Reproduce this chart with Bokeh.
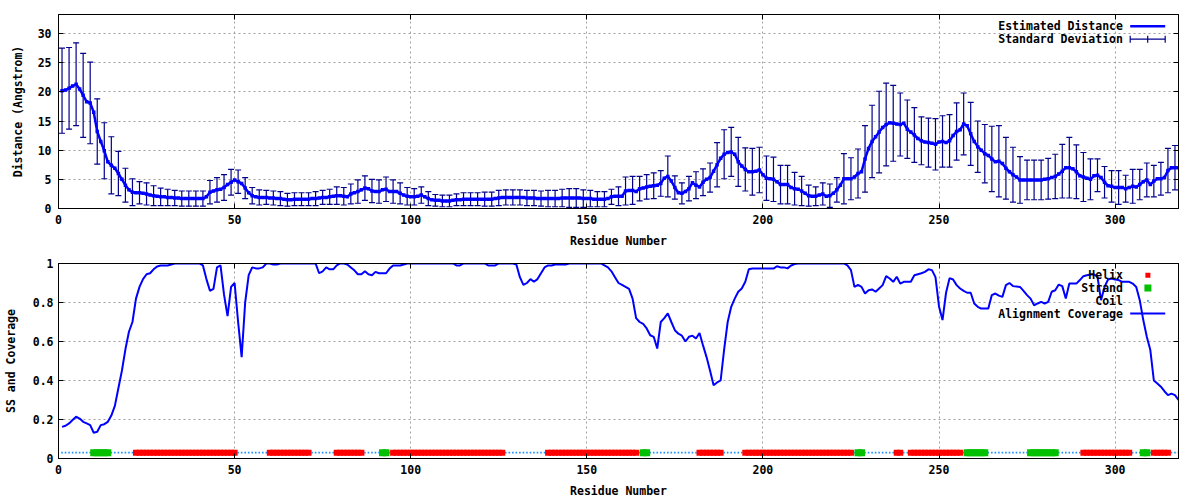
import math
from bokeh.plotting import figure
from bokeh.layouts import column
from bokeh.models import Range1d, FixedTicker, LinearAxis, ColumnDataSource
from bokeh.core.properties import value
from bokeh.embed import file_html
from bokeh.resources import INLINE

# ---------------- data ----------------
residues = list(range(1, 319))

distance = [
    20.2, 20.3, 20.6, 21.0, 21.3, 20.5, 19.4, 18.3, 18.1, 16.5,
    13.2, 11.5, 9.9, 8.0, 7.4, 6.9, 6.0, 5.0, 4.0, 3.2,
    2.8, 2.7, 2.7, 2.6, 2.5, 2.3, 2.2, 2.1, 2.0, 2.0,
    1.9, 1.9, 1.8, 1.8, 1.7, 1.7, 1.7, 1.7, 1.7, 1.7,
    1.7, 2.0, 2.8, 3.0, 3.2, 3.3, 3.6, 4.1, 4.5, 4.9,
    4.6, 4.3, 3.5, 2.7, 2.2, 2.0, 1.9, 1.9, 1.9, 1.8,
    1.8, 1.7, 1.7, 1.6, 1.5, 1.5, 1.6, 1.6, 1.6, 1.6,
    1.6, 1.7, 1.7, 1.8, 1.9, 1.9, 2.0, 2.1, 2.2, 2.2,
    2.1, 2.0, 2.5, 2.7, 2.9, 3.2, 3.5, 3.4, 3.0, 2.9,
    2.9, 3.2, 3.3, 2.9, 2.9, 2.9, 2.6, 2.3, 2.1, 2.0,
    2.0, 2.1, 2.3, 2.0, 1.7, 1.5, 1.4, 1.4, 1.3, 1.3,
    1.3, 1.4, 1.5, 1.5, 1.6, 1.6, 1.6, 1.6, 1.6, 1.6,
    1.6, 1.6, 1.6, 1.7, 1.8, 1.9, 1.9, 1.9, 1.9, 1.9,
    1.9, 1.9, 1.8, 1.8, 1.8, 1.7, 1.7, 1.7, 1.7, 1.7,
    1.7, 1.7, 1.8, 1.8, 1.8, 1.8, 1.8, 1.8, 1.7, 1.7,
    1.7, 1.6, 1.6, 1.6, 1.6, 1.7, 2.0, 2.1, 2.1, 2.1,
    3.0, 3.1, 3.1, 2.9, 3.4, 3.5, 3.7, 3.8, 3.9, 4.0,
    4.3, 5.2, 5.5, 4.7, 3.6, 2.7, 2.6, 2.9, 3.4, 4.4,
    4.0, 3.7, 4.5, 5.0, 5.3, 6.4, 7.5, 8.6, 9.3, 9.6,
    9.7, 9.3, 8.0, 7.3, 6.7, 6.3, 6.3, 6.4, 6.6, 5.8,
    5.2, 5.1, 5.0, 4.6, 4.1, 4.1, 4.1, 3.6, 3.4, 3.3,
    3.0, 2.6, 2.2, 2.1, 2.1, 2.3, 2.5, 2.1, 2.2, 2.6,
    3.2, 4.0, 5.1, 5.1, 5.1, 5.4, 6.0, 6.3, 8.5, 10.3,
    11.5, 12.3, 13.1, 13.9, 14.4, 14.7, 14.6, 14.5, 14.4, 14.6,
    13.6, 13.1, 12.6, 12.0, 11.6, 11.4, 11.3, 11.2, 11.0, 11.4,
    11.5, 11.3, 11.6, 12.5, 13.2, 13.5, 14.5, 14.2, 12.8, 11.5,
    10.6, 10.0, 9.4, 9.1, 8.5, 8.0, 8.1, 7.7, 6.9, 6.3,
    5.8, 5.4, 4.9, 4.9, 4.9, 4.9, 4.9, 4.9, 4.9, 5.0,
    5.1, 5.3, 5.5, 5.9, 6.4, 7.0, 7.0, 6.8, 6.3, 5.6,
    5.4, 5.2, 5.0, 5.6, 5.7, 5.3, 4.5, 3.9, 3.8, 3.6,
    3.6, 3.6, 3.4, 3.6, 3.8, 3.7, 4.1, 4.6, 4.9, 4.1,
    4.7, 5.1, 5.1, 5.3, 6.5, 7.0, 7.0, 7.0,
]

std_dev = [
    7.3, 7.1, 7.0, 7.0, 7.1, 7.1, 7.2, 7.1, 7.0, 6.6,
    5.6, 5.0, 4.8, 4.7, 4.9, 4.0, 3.8, 3.2, 2.9, 2.6,
    2.3, 2.0, 1.9, 1.9, 1.9, 1.8, 1.7, 1.6, 1.5, 1.5,
    1.4, 1.4, 1.3, 1.3, 1.3, 1.3, 1.3, 1.3, 1.3, 1.3,
    1.3, 1.5, 2.0, 2.1, 2.1, 2.1, 2.2, 2.2, 2.2, 2.2,
    2.0, 2.0, 1.8, 1.6, 1.4, 1.3, 1.3, 1.3, 1.2, 1.2,
    1.2, 1.2, 1.2, 1.1, 1.1, 1.1, 1.1, 1.1, 1.1, 1.1,
    1.1, 1.1, 1.2, 1.2, 1.2, 1.3, 1.3, 1.4, 1.5, 1.5,
    1.5, 1.5, 1.7, 1.8, 2.0, 2.1, 2.1, 2.1, 2.0, 2.0,
    2.0, 2.1, 2.1, 2.0, 2.0, 2.0, 1.8, 1.6, 1.5, 1.4,
    1.4, 1.4, 1.4, 1.3, 1.2, 1.0, 1.0, 1.0, 1.0, 1.0,
    1.0, 1.0, 1.0, 1.1, 1.1, 1.1, 1.1, 1.1, 1.1, 1.2,
    1.2, 1.2, 1.2, 1.3, 1.3, 1.3, 1.3, 1.3, 1.3, 1.3,
    1.3, 1.3, 1.3, 1.3, 1.3, 1.3, 1.3, 1.4, 1.4, 1.4,
    1.4, 1.5, 1.5, 1.5, 1.6, 1.6, 1.6, 1.5, 1.5, 1.4,
    1.4, 1.3, 1.3, 1.3, 1.3, 1.3, 1.3, 1.3, 1.6, 2.0,
    2.4, 2.4, 2.4, 2.2, 2.1, 2.1, 2.1, 2.1, 2.2, 2.2,
    2.2, 3.0, 3.5, 3.0, 2.0, 1.8, 1.8, 1.9, 2.1, 2.3,
    2.3, 2.3, 2.3, 2.3, 2.5, 3.0, 3.8, 4.6, 4.2, 4.2,
    4.2, 4.1, 4.2, 4.2, 3.7, 3.8, 4.0, 4.1, 3.9, 3.8,
    3.8, 3.9, 3.8, 3.4, 3.3, 3.5, 3.3, 2.9, 2.8, 2.7,
    2.5, 2.2, 1.8, 1.6, 1.6, 1.8, 1.9, 1.9, 2.0, 2.1,
    2.1, 3.5, 4.3, 4.4, 3.6, 3.7, 4.2, 4.4, 5.7, 5.9,
    6.2, 6.5, 7.0, 7.1, 7.1, 6.9, 6.5, 5.2, 5.4, 5.5,
    5.0, 4.9, 4.7, 4.5, 4.1, 4.0, 4.2, 4.2, 4.4, 4.6,
    4.4, 4.3, 4.5, 4.8, 4.9, 5.1, 5.3, 5.4, 5.4, 4.9,
    4.4, 4.7, 5.0, 5.3, 5.6, 6.0, 6.1, 5.7, 5.3, 5.0,
    4.7, 4.5, 4.0, 3.5, 3.4, 3.5, 3.4, 3.4, 3.4, 3.5,
    3.5, 3.6, 3.8, 4.2, 4.6, 5.0, 5.2, 4.9, 4.6, 4.3,
    4.2, 3.7, 3.5, 3.2, 2.8, 2.7, 2.7, 2.8, 2.7, 2.6,
    2.9, 2.5, 2.3, 2.2, 2.9, 2.2, 2.6, 3.1, 2.9, 2.2,
    2.7, 2.7, 2.8, 2.8, 3.8, 3.7, 3.8, 4.0,
]

coverage = [
    0.162, 0.168, 0.180, 0.197, 0.214, 0.205, 0.188, 0.180, 0.171, 0.132,
    0.137, 0.171, 0.176, 0.188, 0.22, 0.27, 0.36, 0.45, 0.56, 0.65,
    0.70, 0.82, 0.88, 0.92, 0.945, 0.95, 0.97, 0.985, 0.99, 0.99,
    0.99, 0.995, 1.0, 1.0, 1.0, 1.0, 1.0, 1.0, 1.0, 1.0,
    0.99, 0.92, 0.86, 0.87, 0.98, 0.99, 0.84, 0.73, 0.88, 0.90,
    0.70, 0.52, 0.80, 0.94, 0.98, 0.975, 0.975, 0.98, 1.0, 1.0,
    0.995, 0.995, 1.0, 1.0, 1.0, 1.0, 1.0, 1.0, 1.0, 1.0,
    1.0, 1.0, 1.0, 0.95, 0.96, 0.98, 0.97, 0.97, 0.99, 1.0,
    1.0, 0.995, 0.98, 0.965, 0.945, 0.945, 0.96, 0.945, 0.94, 0.957,
    0.95, 0.95, 0.95, 0.974, 0.99, 0.99, 0.99, 0.995, 1.0, 1.0,
    1.0, 1.0, 1.0, 1.0, 1.0, 1.0, 1.0, 1.0, 1.0, 1.0,
    1.0, 1.0, 0.99, 0.99, 1.0, 1.0, 1.0, 1.0, 1.0, 1.0,
    1.0, 0.99, 0.99, 0.99, 1.0, 1.0, 1.0, 1.0, 1.0, 0.995,
    0.93, 0.89, 0.90, 0.92, 0.906, 0.92, 0.95, 0.98, 0.99, 0.99,
    0.995, 0.995, 0.995, 0.995, 1.0, 1.0, 1.0, 1.0, 1.0, 1.0,
    1.0, 1.0, 1.0, 1.0, 0.99, 0.98, 0.96, 0.93, 0.90, 0.89,
    0.88, 0.87, 0.82, 0.72, 0.70, 0.69, 0.667, 0.632, 0.624, 0.564,
    0.70, 0.72, 0.744, 0.70, 0.658, 0.64, 0.63, 0.60, 0.624, 0.63,
    0.615, 0.644, 0.58, 0.52, 0.45, 0.376, 0.39, 0.40, 0.56, 0.70,
    0.778, 0.82, 0.855, 0.872, 0.906, 0.97, 0.974, 0.974, 0.974, 0.974,
    0.974, 0.974, 0.974, 0.986, 0.98, 0.98, 0.975, 0.99, 0.997, 1.0,
    1.0, 1.0, 1.0, 1.0, 1.0, 1.0, 1.0, 1.0, 1.0, 1.0,
    1.0, 1.0, 1.0, 0.99, 0.966, 0.88, 0.89, 0.88, 0.846, 0.863,
    0.867, 0.855, 0.872, 0.889, 0.935, 0.923, 0.906, 0.932, 0.897, 0.906,
    0.906, 0.906, 0.94, 0.945, 0.95, 0.957, 0.97, 0.966, 0.93, 0.78,
    0.71, 0.85, 0.925, 0.918, 0.889, 0.872, 0.86, 0.85, 0.85, 0.795,
    0.778, 0.769, 0.769, 0.769, 0.838, 0.846, 0.835, 0.829, 0.889, 0.90,
    0.884, 0.882, 0.88, 0.86, 0.838, 0.82, 0.786, 0.795, 0.803, 0.795,
    0.803, 0.855, 0.863, 0.892, 0.884, 0.82, 0.897, 0.897, 0.897, 0.915,
    0.935, 0.94, 0.944, 0.944, 0.932, 0.812, 0.88, 0.918, 0.923, 0.918,
    0.915, 0.906, 0.906, 0.906, 0.897, 0.88, 0.812, 0.71, 0.624, 0.556,
    0.40, 0.385, 0.368, 0.345, 0.325, 0.333, 0.325, 0.30,
]

helix_segments = [(22, 50), (60, 71), (79, 86), (95, 126), (139, 164), (182, 188),
                  (195, 225), (238, 239), (242, 256), (291, 304), (311, 315)]
strand_segments = [(10, 14), (92, 93), (166, 167), (227, 228), (258, 263),
                   (276, 283), (308, 309)]
ss_level = 0.03
errorbar_every = 2

x_ticks = [0, 50, 100, 150, 200, 250, 300]
dist_ticks = [0, 5, 10, 15, 20, 25, 30]
cov_ticks = [0, 0.2, 0.4, 0.6, 0.8, 1]
cov_tick_labels = ["0", "0.2", "0.4", "0.6", "0.8", "1"]

top_legend = ["Estimated Distance", "Standard Deviation"]
bottom_legend = ["Helix", "Strand", "Coil", "Alignment Coverage"]
top_ylabel = "Distance (Angstrom)"
bot_ylabel = "SS and Coverage"
xlabel = "Residue Number"

X_END = 318
TOP_Y_END = 33.26

# ---------------- style ----------------
FONT = "DejaVu Sans Mono"
FS = "11.5px"
LINE_BLUE = "#0000ff"
BAR_NAVY = "#00008b"
HELIX_RED = "#ff0000"
STRAND_GREEN = "#00c000"
COIL_BLUE = "#1e90ff"
GRID = "#a0a0a0"

TOP_FW, TOP_FH = 1120, 194
BOT_FW, BOT_FH = 1120, 195


def style(p, xticks, yticks, ylab_standoff, ylab_axis_standoff, xlab_standoff, xlab_axis_standoff):
    p.outline_line_color = "black"
    p.outline_line_width = 1
    p.background_fill_color = "white"
    p.border_fill_color = "white"
    for ax in p.axis:
        ax.major_label_text_font = FONT
        ax.major_label_text_font_style = "bold"
        ax.major_label_text_font_size = FS
        ax.major_label_text_color = "black"
        ax.axis_label_text_font = FONT
        ax.axis_label_text_font_style = "bold"
        ax.axis_label_text_font_size = FS
        ax.axis_label_text_color = "black"
        ax.minor_tick_line_color = None
        ax.major_tick_in = 5
        ax.major_tick_out = 0
        ax.major_tick_line_color = "black"
        ax.axis_line_color = "black"
    p.xaxis.ticker = FixedTicker(ticks=xticks)
    p.yaxis.ticker = FixedTicker(ticks=yticks)
    p.yaxis.major_label_standoff = ylab_standoff
    p.yaxis.axis_label_standoff = ylab_axis_standoff
    p.xaxis.major_label_standoff = xlab_standoff
    p.xaxis.axis_label_standoff = xlab_axis_standoff
    for g in (p.xgrid, p.ygrid):
        g.grid_line_color = GRID
        g.grid_line_dash = "2 3"
        g.grid_line_width = 1
    p.xgrid.ticker = FixedTicker(ticks=xticks)
    p.ygrid.ticker = FixedTicker(ticks=yticks)
    # mirrored inward ticks on right and top
    for loc, ticks in (("right", yticks), ("above", xticks)):
        ax = LinearAxis(ticker=FixedTicker(ticks=ticks))
        ax.major_label_text_font_size = "0px"
        ax.major_label_text_alpha = 0
        ax.major_label_standoff = 0
        ax.major_tick_in = 5
        ax.major_tick_out = 0
        ax.minor_tick_line_color = None
        ax.axis_line_color = "black"
        p.add_layout(ax, loc)


# ---------------- top panel ----------------
top = figure(frame_width=TOP_FW, frame_height=TOP_FH, output_backend="svg", toolbar_location=None,
             x_range=Range1d(0, X_END), y_range=Range1d(0, TOP_Y_END),
             min_border_left=58, min_border_right=6, min_border_top=14, min_border_bottom=40,
             x_axis_label=xlabel, y_axis_label=top_ylabel)
style(top, x_ticks, dist_ticks, 7, 10, 6, 7)

upper = [d + s for d, s in zip(distance, std_dev)]
lower = [d - s for d, s in zip(distance, std_dev)]
src = ColumnDataSource(dict(x=residues, d=distance))
ebar = ColumnDataSource(dict(x=residues[::errorbar_every], up=upper[::errorbar_every],
                             lo=lower[::errorbar_every]))
top.segment(x0="x", y0="lo", x1="x", y1="up", source=ebar, line_color=BAR_NAVY, line_width=1.2)
top.scatter(x="x", y="up", source=ebar, marker="dash", size=6, line_color=BAR_NAVY, line_width=1.2)
top.scatter(x="x", y="lo", source=ebar, marker="dash", size=6, line_color=BAR_NAVY, line_width=1.2)
top.line(x="x", y="d", source=src, line_color=LINE_BLUE, line_width=2.5)
top.scatter(x="x", y="d", source=src, marker="square", size=3.5, fill_color=LINE_BLUE, line_color=None)

# legend (positions from pixel offsets relative to frame)
pxx_t = X_END / TOP_FW
pxy_t = TOP_Y_END / TOP_FH
tx = X_END - 55.6 * pxx_t
s0 = X_END - 48.3 * pxx_t
s1 = X_END - 13.3 * pxx_t
rows_t = [TOP_Y_END - 11.7 * pxy_t, TOP_Y_END - 24.7 * pxy_t]
top.text(x=[tx, tx], y=rows_t, text=top_legend, text_align="right", text_baseline="middle",
         text_font=value(FONT), text_font_style="bold", text_font_size=FS, text_color="black")
top.segment(x0=[s0], y0=[rows_t[0]], x1=[s1], y1=[rows_t[0]], line_color=LINE_BLUE, line_width=2.5)
top.segment(x0=[s0], y0=[rows_t[1]], x1=[s1], y1=[rows_t[1]], line_color=BAR_NAVY, line_width=1.2)
top.scatter(x=[s0, (s0 + s1) / 2, s1], y=[rows_t[1]] * 3, marker="dash", angle=math.pi / 2,
            size=7, line_color=BAR_NAVY, line_width=1.2)

# ---------------- bottom panel ----------------
bot = figure(frame_width=BOT_FW, frame_height=BOT_FH, output_backend="svg", toolbar_location=None,
             x_range=Range1d(0, X_END), y_range=Range1d(0, 1),
             min_border_left=58, min_border_right=6, min_border_top=13, min_border_bottom=30,
             x_axis_label=xlabel, y_axis_label=bot_ylabel)
style(bot, x_ticks, cov_ticks, 5, 12, 6, 7)
bot.yaxis[0].major_label_overrides = {t: l for t, l in zip(cov_ticks, cov_tick_labels)}

helix_x = [r for a, b in helix_segments for r in range(a, b + 1)]
strand_x = [r for a, b in strand_segments for r in range(a, b + 1)]
ss_set = set(helix_x) | set(strand_x)
coil_x = [r for r in residues if r not in ss_set]

bot.scatter(x=coil_x, y=[ss_level] * len(coil_x), marker="square", size=1.6,
            fill_color=COIL_BLUE, line_color=None)
bot.scatter(x=helix_x, y=[ss_level] * len(helix_x), marker="square", size=6,
            fill_color=HELIX_RED, line_color=None)
bot.scatter(x=strand_x, y=[ss_level] * len(strand_x), marker="square", size=7,
            fill_color=STRAND_GREEN, line_color=None)
bot.line(x=residues, y=coverage, line_color=LINE_BLUE, line_width=2)

pxx_b = X_END / BOT_FW
pxy_b = 1.0 / BOT_FH
bx = X_END - 55.6 * pxx_b
b0 = X_END - 48.3 * pxx_b
b1 = X_END - 13.3 * pxx_b
bm = X_END - 30.6 * pxx_b
rows_b = [1 - 11.7 * pxy_b, 1 - 24.4 * pxy_b, 1 - 37.4 * pxy_b, 1 - 50.0 * pxy_b]
bot.text(x=[bx] * 4, y=rows_b, text=bottom_legend, text_align="right", text_baseline="middle",
         text_font=value(FONT), text_font_style="bold", text_font_size=FS, text_color="black")
bot.scatter(x=[bm], y=[rows_b[0]], marker="square", size=5, fill_color=HELIX_RED, line_color=None)
bot.scatter(x=[bm], y=[rows_b[1]], marker="square", size=7, fill_color=STRAND_GREEN, line_color=None)
bot.scatter(x=[bm], y=[rows_b[2]], marker="square", size=1.6, fill_color=COIL_BLUE, line_color=None)
bot.segment(x0=[b0], y0=[rows_b[3]], x1=[b1], y1=[rows_b[3]], line_color=LINE_BLUE, line_width=2)

layout = column(top, bot, spacing=0)
open("out.html", "w").write(file_html(layout, INLINE))
